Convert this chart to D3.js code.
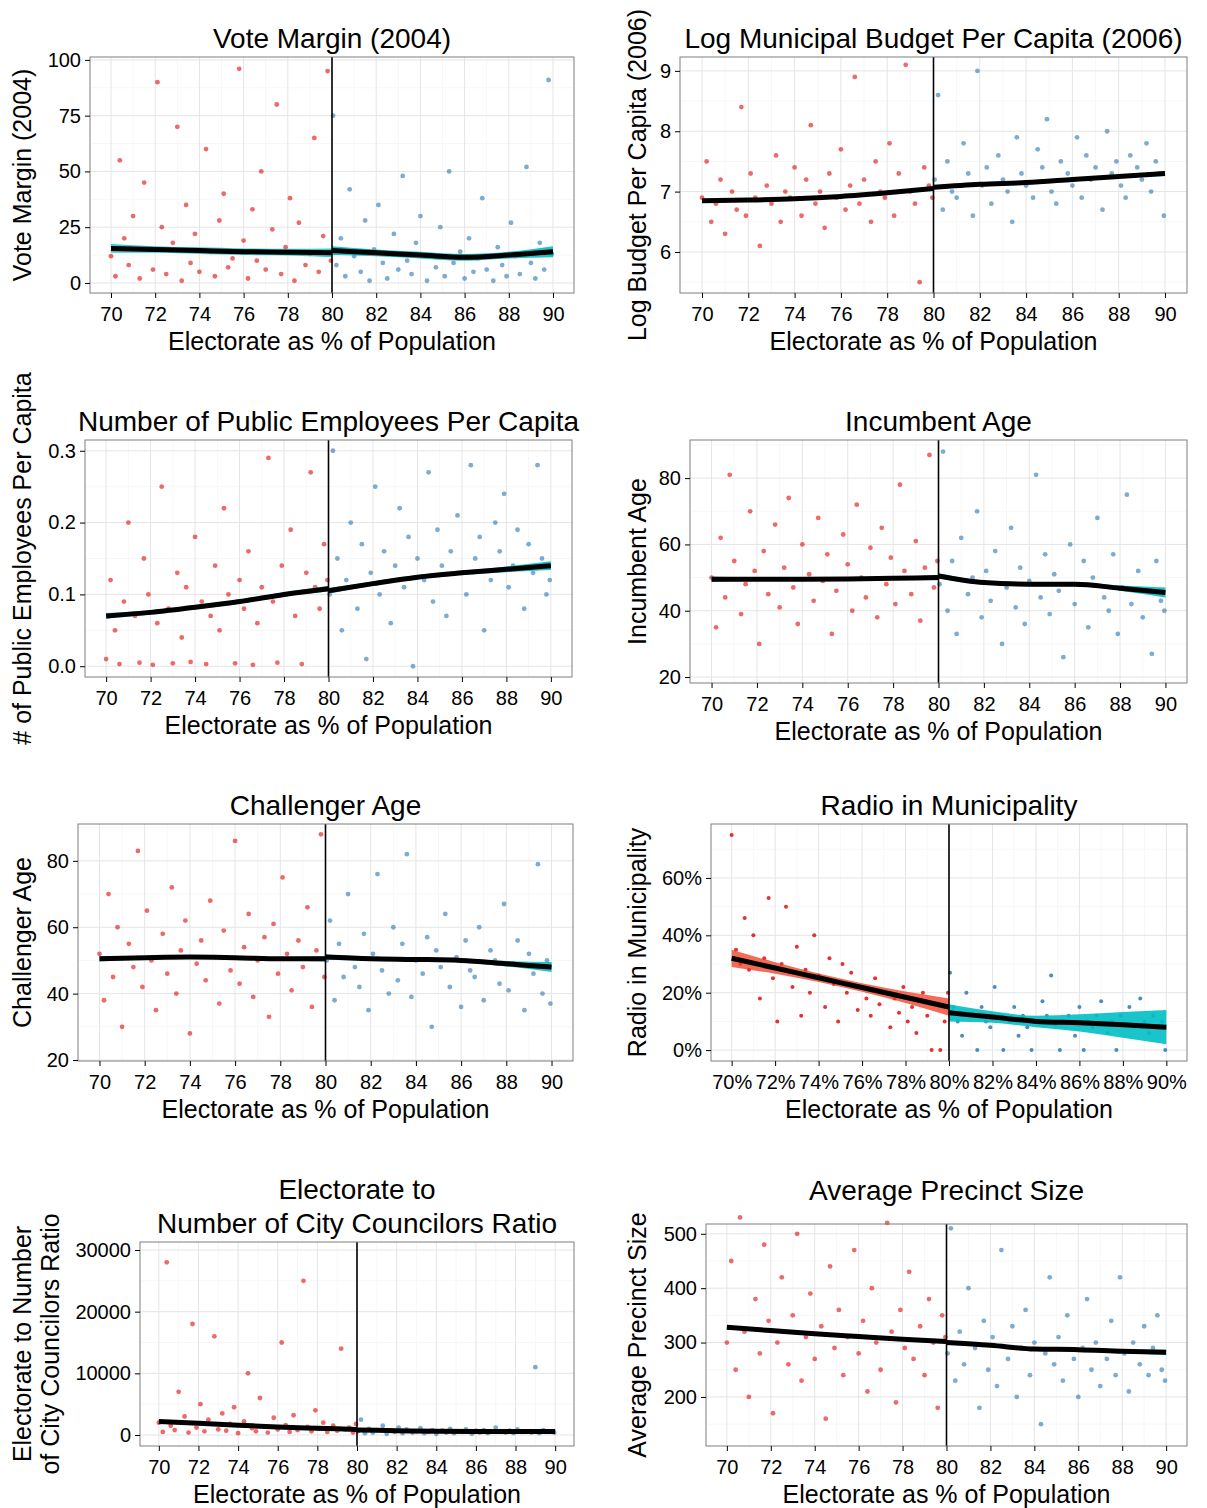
<!DOCTYPE html>
<html><head><meta charset="utf-8">
<script src="https://cdn.jsdelivr.net/npm/d3@7"></script>
<style>body{margin:0;background:#fff}text{font-family:"Liberation Sans",Arial,sans-serif;fill:#000}</style>
</head><body><div id="container"><svg></svg></div>
<script>
// shared electorate positions (% of population) for the sampled points
const xLeft = [70.0,70.2,70.4,70.6,70.8,71.0,71.3,71.5,71.7,71.9,72.1,72.3,72.5,72.8,73.0,73.2,73.4,73.6,73.8,74.0,74.3,74.5,74.7,74.9,75.1,75.3,75.5,75.8,76.0,76.2,76.4,76.6,76.8,77.0,77.3,77.5,77.7,77.9,78.1,78.3,78.5,78.8,79.0,79.2,79.4,79.6,79.8,79.95];
const xRight = [80.05,80.2,80.4,80.6,80.8,81.0,81.3,81.5,81.7,81.9,82.1,82.3,82.5,82.8,83.0,83.2,83.4,83.6,83.8,84.0,84.3,84.5,84.7,84.9,85.1,85.3,85.5,85.8,86.0,86.2,86.4,86.6,86.8,87.0,87.3,87.5,87.7,87.9,88.1,88.3,88.5,88.8,89.0,89.2,89.4,89.6,89.8,89.95];
const smoothX = [70,72,74,76,78,80];
const smoothXR = [80,82,84,86,88,90];

const voteL = [12,3,55,20,8,30,2,45,15,6,90,25,4,18,70,1,35,9,22,5,60,14,3,28,40,7,11,96,19,2,33,10,50,6,24,80,4,16,38,1,27,8,13,65,5,21,95,10];
const voteR = [75,8,20,3,42,12,5,28,1,15,35,9,2,22,6,48,10,4,18,30,1,12,7,25,3,50,9,14,2,20,5,11,38,6,1,16,8,3,27,12,4,52,9,2,18,6,91,13];
const voteFitL = [15.5,15,14.5,14,13.8,13.5], voteFitR = [14.5,13.5,12.5,11.5,12.5,14];

const budgetL = [6.9,7.5,6.5,6.8,7.2,6.3,7.0,6.7,8.4,6.6,7.3,6.9,6.1,7.1,6.8,7.6,6.5,7.0,6.9,7.4,6.6,7.2,8.1,6.8,7.0,6.4,7.3,6.9,7.7,6.7,7.1,8.9,6.8,7.2,6.5,7.5,7.0,6.9,7.8,6.6,7.3,9.1,7.0,6.8,5.5,7.4,7.1,6.9];
const budgetR = [7.2,8.6,6.7,7.5,7.0,6.9,7.8,7.3,6.6,9.0,7.1,7.4,6.8,7.6,7.2,7.0,6.5,7.9,7.3,7.1,6.9,7.7,7.4,8.2,7.0,6.8,7.5,7.3,7.1,7.9,6.9,7.6,7.2,7.4,6.7,8.0,7.3,7.5,7.1,6.9,7.6,7.4,7.2,7.8,7.0,7.5,7.3,6.6];
const budgetFitL = [6.85,6.86,6.88,6.92,6.98,7.05], budgetFitR = [7.07,7.12,7.15,7.2,7.25,7.3];

const emplL = [0.01,0.12,0.05,0.003,0.09,0.2,0.07,0.005,0.15,0.1,0.002,0.06,0.25,0.08,0.004,0.13,0.04,0.11,0.006,0.18,0.09,0.003,0.07,0.14,0.05,0.22,0.1,0.004,0.12,0.08,0.16,0.002,0.06,0.11,0.29,0.09,0.005,0.14,0.1,0.19,0.07,0.003,0.13,0.27,0.11,0.08,0.17,0.12];
const emplR = [0.1,0.3,0.15,0.05,0.12,0.2,0.08,0.17,0.01,0.13,0.25,0.1,0.16,0.06,0.14,0.22,0.11,0.18,0.0,0.15,0.12,0.27,0.09,0.19,0.14,0.07,0.16,0.21,0.13,0.1,0.28,0.15,0.18,0.05,0.12,0.2,0.16,0.24,0.11,0.14,0.19,0.08,0.17,0.13,0.28,0.15,0.1,0.12];
const emplFitL = [0.07,0.075,0.082,0.09,0.1,0.108], emplFitR = [0.105,0.115,0.124,0.13,0.135,0.14];

const incL = [50,35,62,44,81,55,39,48,70,52,30,58,45,66,41,53,74,47,36,60,51,43,68,49,57,33,46,63,54,40,72,50,44,59,38,65,48,56,42,78,52,45,61,37,53,87,47,55];
const incR = [48,88,40,55,33,62,45,50,70,38,52,43,58,30,47,65,41,53,36,49,81,44,57,39,51,46,26,60,42,48,55,35,50,68,44,40,57,33,47,75,42,52,38,46,27,55,43,40];
const incFitL = [49.5,49.5,49.5,49.6,49.8,50], incFitR = [50.5,48.5,48,48,46.8,45.5];

const chalL = [52,38,70,45,60,30,55,48,83,42,65,50,35,58,46,72,40,53,62,28,49,56,44,68,51,37,59,47,86,43,54,64,39,50,57,33,61,46,75,52,41,56,48,66,36,53,88,45];
const chalR = [50,62,38,55,45,70,48,42,58,35,52,76,47,40,60,44,55,82,39,50,46,57,30,53,48,64,42,51,36,56,47,45,60,38,53,50,43,67,41,49,56,35,52,46,79,40,50,37];
const chalFitL = [50.5,50.8,51,50.8,50.5,50.5], chalFitR = [51,50.5,50.3,50,49,48];

const radioL = [0.75,0.35,0.3,0.46,0.28,0.4,0.18,0.32,0.53,0.25,0.1,0.3,0.5,0.22,0.36,0.12,0.28,0.2,0.4,0.26,0.15,0.32,0.23,0.1,0.3,0.2,0.27,0.14,0.22,0.18,0.12,0.25,0.16,0.2,0.08,0.18,0.13,0.22,0.1,0.15,0.06,0.2,0.12,0.0,0.16,0.0,0.1,0.2];
const radioR = [0.27,0.15,0.1,0.05,0.2,0.12,0.0,0.15,0.1,0.08,0.22,0.12,0.0,0.1,0.15,0.05,0.12,0.08,0.0,0.1,0.17,0.12,0.26,0.09,0.0,0.1,0.12,0.05,0.15,0.0,0.1,0.08,0.12,0.17,0.06,0.1,0.0,0.12,0.09,0.15,0.08,0.18,0.1,0.06,0.12,0.08,0.1,0.0];
const radioFitL = [0.32,0.286,0.252,0.218,0.184,0.15], radioFitR = [0.13,0.115,0.1,0.095,0.088,0.08];
const radioSeL = [0.03,0.02,0.015,0.015,0.02,0.03], radioSeR = [0.03,0.02,0.02,0.03,0.045,0.06];

const ratioL = [2000,500,28000,1500,800,7000,3000,400,18000,1200,5000,600,2500,16000,900,3500,700,1800,4500,300,2200,10000,1100,600,6000,1400,400,2800,900,15000,1600,500,3200,800,25000,1300,600,4000,1000,2000,500,1500,700,14000,900,1200,400,1800];
const ratioR = [600,2500,300,1000,400,800,1500,200,700,500,1200,300,900,400,600,1100,300,500,800,200,700,400,1000,300,600,500,900,200,700,400,800,300,600,1200,500,400,700,300,900,500,600,400,11000,300,800,500,600,400];
const ratioFitL = [2200,1900,1600,1300,1100,900], ratioFitR = [800,700,600,570,550,550];

const precL = [300,450,250,530,320,200,380,280,480,340,170,300,420,260,350,500,230,310,390,270,330,160,440,290,360,240,310,470,280,340,210,400,300,250,520,320,190,360,290,430,270,330,240,380,300,180,350,310];
const precR = [280,510,230,320,260,400,290,180,340,250,310,220,470,270,330,200,290,360,240,300,150,280,420,260,310,230,350,270,200,290,380,250,300,220,270,340,240,420,280,210,300,260,330,240,290,350,250,230];
const precFitL = [328,322,316,311,306,302], precFitR = [300,295,288,287,284,282];

const xTicks = d3.range(70, 91, 2);

const panels = [
  {title:["Vote Margin (2004)"], ylab:["Vote Margin (2004)"], box:[90,57,574,293], yd:[-4.5,101.3], yt:[0,25,50,75,100], yf:d3.format("d"), L:voteL, R:voteR, fL:voteFitL, fR:voteFitR, seL:[2,1.5,1.5,1.5,1.5,2], seR:[2,1.5,1.5,1.5,1.5,2.5]},
  {title:["Log Municipal Budget Per Capita (2006)"], ylab:["Log Budget Per Capita (2006)"], box:[680,57,1187,293], yd:[5.32,9.23], yt:[6,7,8,9], yf:d3.format("d"), L:budgetL, R:budgetR, fL:budgetFitL, fR:budgetFitR, seL:[.03,.02,.02,.02,.02,.03], seR:[.03,.02,.02,.02,.02,.04]},
  {title:["Number of Public Employees Per Capita"], ylab:["# of Public Employees Per Capita"], box:[85,440,572,677], yd:[-0.015,0.315], yt:[0,.1,.2,.3], yf:d3.format(".1f"), L:emplL, R:emplR, fL:emplFitL, fR:emplFitR, seL:[.004,.003,.003,.003,.003,.004], seR:[.004,.003,.003,.003,.004,.006]},
  {title:["Incumbent Age"], ylab:["Incumbent Age"], box:[690,440,1187,683], yd:[18.2,91.5], yt:[20,40,60,80], yf:d3.format("d"), L:incL, R:incR, fL:incFitL, fR:incFitR, seL:[.8,.5,.5,.5,.5,.8], seR:[.8,.6,.6,.6,.8,1.5]},
  {title:["Challenger Age"], ylab:["Challenger Age"], box:[78,824,573,1061], yd:[19.7,91.1], yt:[20,40,60,80], yf:d3.format("d"), L:chalL, R:chalR, fL:chalFitL, fR:chalFitR, seL:[.8,.5,.5,.5,.5,.8], seR:[.8,.6,.6,.6,.8,1.5]},
  {title:["Radio in Municipality"], ylab:["Radio in Municipality"], box:[711,824,1187,1061], yd:[-0.038,0.788], yt:[0,.2,.4,.6], yf:d3.format(".0%"), pct:true, L:radioL, R:radioR, fL:radioFitL, fR:radioFitR, seL:radioSeL, seR:radioSeR, bandL:"#f03b20", sparse:true},
  {title:["Electorate to","Number of City Councilors Ratio"], ylab:["Electorate to Number","of City Councilors Ratio"], box:[140,1242,574,1446], yd:[-1784,31297], yt:[0,10000,20000,30000], yf:d3.format("d"), L:ratioL, R:ratioR, fL:ratioFitL, fR:ratioFitR, seL:[200,120,100,100,120,200], seR:[150,100,100,100,100,150]},
  {title:["Average Precinct Size"], titleY:1200, ylab:["Average Precinct Size"], box:[706,1224,1187,1446], yd:[109.8,518], yt:[200,300,400,500], yf:d3.format("d"), L:precL, R:precR, fL:precFitL, fR:precFitR, seL:[4,3,3,3,3,4], seR:[4,3,3,3,3,5]}
];

const svg = d3.select("svg").attr("width", 1207).attr("height", 1508);

panels.forEach((p, i) => {
  const [x0, y0, x1, y1] = p.box;
  const x = d3.scaleLinear().domain([69.05, 90.95]).range([x0, x1]);
  const y = d3.scaleLinear().domain(p.yd).range([y1, y0]);
  const g = svg.append("g");

  // grid: minor then major
  const xMinor = d3.range(71, 90, 2), yStep = p.yt[1] - p.yt[0];
  const yMinor = p.yt.map(v => v - yStep / 2).concat([p.yt[p.yt.length - 1] + yStep / 2]).filter(v => v > p.yd[0] && v < p.yd[1]);
  g.selectAll(".xm").data(xMinor).join("line").attr("x1", d => x(d)).attr("x2", d => x(d)).attr("y1", y0).attr("y2", y1).attr("stroke", "#f7f7f7");
  g.selectAll(".ym").data(yMinor).join("line").attr("y1", d => y(d)).attr("y2", d => y(d)).attr("x1", x0).attr("x2", x1).attr("stroke", "#f7f7f7");
  g.selectAll(".xg").data(xTicks).join("line").attr("x1", d => x(d)).attr("x2", d => x(d)).attr("y1", y0).attr("y2", y1).attr("stroke", "#e5e5e5");
  g.selectAll(".yg").data(p.yt).join("line").attr("y1", d => y(d)).attr("y2", d => y(d)).attr("x1", x0).attr("x2", x1).attr("stroke", "#e5e5e5");

  // points
  const r = p.sparse ? 2 : 2.4;
  g.selectAll(".pl").data(p.L).join("circle").attr("cx", (d, k) => x(xLeft[k])).attr("cy", d => y(d)).attr("r", r).attr("fill", "#e41a1c").attr("fill-opacity", p.sparse ? 0.9 : 0.65);
  g.selectAll(".pr").data(p.R).join("circle").attr("cx", (d, k) => x(xRight[k])).attr("cy", d => y(d)).attr("r", r).attr("fill", "#377eb8").attr("fill-opacity", p.sparse ? 0.9 : 0.65);

  // confidence bands
  const area = (xs, fit, se) => d3.area().curve(d3.curveMonotoneX).x((d, k) => x(xs[k])).y0((d, k) => y(fit[k] - se[k])).y1((d, k) => y(fit[k] + se[k]))(fit);
  g.append("path").attr("d", area(smoothX, p.fL, p.seL)).attr("fill", p.bandL || "#00bfc4").attr("opacity", p.bandL ? 0.75 : 0.8);
  g.append("path").attr("d", area(smoothXR, p.fR, p.seR)).attr("fill", "#00bfc4").attr("opacity", 0.9);

  // cutoff
  g.append("line").attr("x1", x(80)).attr("x2", x(80)).attr("y1", y0).attr("y2", y1).attr("stroke", "#000").attr("stroke-width", 1.6);

  // fitted lines
  const ln = xs => d3.line().curve(d3.curveMonotoneX).x((d, k) => x(xs[k])).y(d => y(d));
  g.append("path").attr("d", ln(smoothX)(p.fL)).attr("fill", "none").attr("stroke", "#000").attr("stroke-width", 5);
  g.append("path").attr("d", ln(smoothXR)(p.fR)).attr("fill", "none").attr("stroke", "#000").attr("stroke-width", 5);

  // border
  g.append("rect").attr("x", x0).attr("y", y0).attr("width", x1 - x0).attr("height", y1 - y0).attr("fill", "none").attr("stroke", "#7f7f7f").attr("stroke-width", 1);

  // axes
  const xa = g.append("g").attr("transform", `translate(0,${y1})`)
    .call(d3.axisBottom(x).tickValues(xTicks).tickSize(5).tickPadding(9).tickFormat(d => p.pct ? d + "%" : d));
  const ya = g.append("g").attr("transform", `translate(${x0},0)`)
    .call(d3.axisLeft(y).tickValues(p.yt).tickSize(5).tickPadding(4).tickFormat(p.yf));
  [xa, ya].forEach(a => {
    a.select(".domain").remove();
    a.selectAll("line").attr("stroke", "#000");
    a.selectAll("text").attr("font-size", 20).attr("fill", "#000");
  });

  const cx = (x0 + x1) / 2, cy = (y0 + y1) / 2;
  g.append("text").attr("x", cx).attr("y", y1 + 57).attr("text-anchor", "middle").attr("font-size", 25).text("Electorate as % of Population");
  p.title.forEach((t, k) => {
    const ty = p.titleY || (y0 - 9 - (p.title.length - 1 - k) * 34);
    g.append("text").attr("x", cx).attr("y", ty).attr("text-anchor", "middle").attr("font-size", 28).text(t);
  });
  const lx = i % 2 === 0 ? 31 : 646;
  p.ylab.forEach((t, k) => {
    g.append("text").attr("transform", `translate(${lx + k * 28},${cy}) rotate(-90)`)
      .attr("text-anchor", "middle").attr("font-size", 25).text(t);
  });
});
</script>
</body></html>
